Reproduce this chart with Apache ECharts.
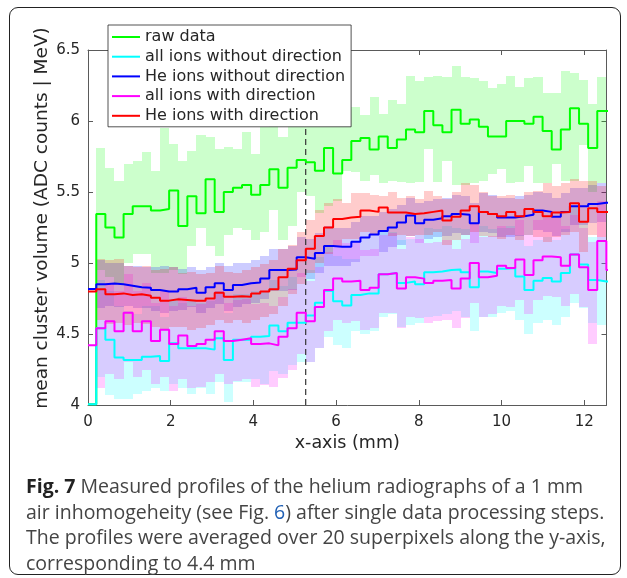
<!DOCTYPE html>
<html>
<head>
<meta charset="utf-8">
<script src="https://cdn.jsdelivr.net/npm/echarts/dist/echarts.min.js"></script>
<style>
body{margin:0;background:#fff;}
#frame{position:absolute;left:9px;top:7px;width:612px;height:568px;box-sizing:border-box;border:1.5px solid #222;border-radius:9px;}
#main{position:absolute;left:0;top:0;width:627px;height:578px;}
#caption{position:absolute;left:26px;top:473px;font-family:'Open Sans';font-size:19.5px;line-height:25.5px;color:#444;white-space:nowrap;}
#caption b{color:#222;}
#caption .ref{color:#1f5fb4;}
</style>
</head>
<body>
<div id="frame"></div>
<div id="main"></div>
<div id="caption"><b>Fig. 7</b> Measured profiles of the helium radiographs of a 1 mm<br>air inhomogeheity (see Fig. <span class="ref">6</span>) after single data processing steps.<br>The profiles were averaged over 20 superpixels along the y-axis,<br>corresponding to 4.4 mm</div>
<script>
var names=['raw data','all ions without direction','He ions without direction','all ions with direction','He ions with direction'];
var colors=['#00ff00','#00ffff','#0000ff','#ff00ff','#ff0000'];
var fills=['rgba(0,255,0,0.2)','rgba(0,255,255,0.2)','rgba(0,0,255,0.2)','rgba(255,0,255,0.2)','rgba(255,0,0,0.2)'];

// bins of 0.22 mm (one superpixel), first narrow bin from 0 to binStart
var binStart=0.2, binWidth=0.2203, xMax=12.54;
var boundary=5.265;
var xTicks=[0,2,4,6,8,10,12];
var yTicks=[4,4.5,5,5.5,6,6.5];

// raw data
var rawFirst=4.005, rawTail=6.07;
var rawMean=[5.345,5.25,5.18,5.345,5.40,5.40,5.37,5.38,5.51,5.26,5.47,5.35,5.59,5.36,5.50,5.53,5.55,5.48,5.55,5.66,
  5.53,5.67,5.725,5.71,5.65,5.81,5.63,5.725,5.86,5.88,5.80,5.89,5.81,5.87,5.94,5.92,6.07,5.97,5.92,6.08,
  5.98,6.01,5.96,5.89,5.89,6.00,6.00,5.98,6.03,5.93,5.80,5.94,6.09,5.98,5.81,6.07];
var rawUpper=[5.81,5.67,5.58,5.70,5.72,5.78,5.65,5.95,5.84,5.72,5.79,5.90,5.89,5.80,
  5.82,5.80,5.92,5.77,5.96,5.98,5.89,6.00,6.02,6.05,6.00,6.08,6.00,
  6.05,6.10,6.04,6.17,6.05,6.15,6.12,6.32,6.28,6.31,6.32,6.31,6.39,6.31,6.30,6.28,6.23,6.26,6.32,6.24,6.30,6.31,6.20,6.20,6.35,6.34,6.29,6.12,6.31];
var rawLower=[4.95,4.90,4.85,5.00,5.06,5.06,4.93,4.93,4.95,4.92,5.12,5.25,5.12,5.05,
  5.20,5.25,5.23,5.16,5.22,5.37,5.16,5.26,5.50,5.47,5.35,5.40,5.44,
  5.65,5.64,5.58,5.62,5.56,5.58,5.57,5.56,5.57,5.80,5.57,5.72,5.55,5.55,5.56,5.58,5.63,5.66,5.56,5.57,5.68,5.56,5.56,5.70,5.58,5.58,5.83,5.50,5.56];

// all ions without direction
var allNoDirFirst=4.005, allNoDirTail=4.87;
var allNoDirMean=[4.54,4.46,4.335,4.317,4.317,4.34,4.345,4.31,4.434,4.40,4.40,4.40,4.39,4.47,4.317,4.46,4.46,4.48,4.486,4.56,
  4.52,4.58,4.58,4.63,4.72,4.805,4.73,4.70,4.775,4.786,4.786,4.92,4.93,4.86,4.87,4.85,4.935,4.94,4.95,4.955,
  4.935,4.83,4.94,4.93,4.96,4.965,4.905,4.81,4.875,4.895,4.87,4.93,5.06,4.99,4.88,4.87];
var allNoDirUpper=[4.88,4.80,4.70,4.66,4.64,4.70,4.70,4.62,4.75,4.72,4.74,4.72,4.73,4.80,4.65,4.78,4.78,4.80,4.80,4.88,4.84,4.90,4.90,4.95,5.04,5.13,5.05,5.03,
  5.03,5.05,5.05,5.22,5.22,5.16,5.17,5.14,5.25,5.24,5.26,5.25,5.24,5.14,5.26,5.24,5.25,5.26,5.20,5.12,5.16,5.18,5.16,5.24,5.40,5.29,5.18,5.18];
var allNoDirLower=[4.20,4.07,4.04,4.04,4.08,4.10,4.12,4.10,4.15,4.12,4.08,4.12,4.08,4.16,4.02,4.16,4.16,4.18,4.15,4.24,4.22,4.28,4.30,4.30,4.40,4.48,4.42,4.40,
  4.52,4.50,4.52,4.62,4.64,4.55,4.56,4.58,4.62,4.63,4.64,4.66,4.62,4.52,4.62,4.62,4.65,4.66,4.60,4.50,4.58,4.60,4.56,4.62,4.72,4.68,4.58,4.56];

// He ions without direction
var heNoDirFirst=4.817, heNoDirTail=5.425;
var heNoDirMean=[4.85,4.855,4.85,4.84,4.83,4.825,4.81,4.80,4.80,4.815,4.825,4.79,4.83,4.858,4.81,4.845,4.857,4.862,4.89,4.95,
  4.95,4.955,5.04,5.03,5.07,5.12,5.115,5.115,5.15,5.18,5.20,5.225,5.25,5.285,5.335,5.28,5.305,5.315,5.33,5.345,
  5.34,5.28,5.36,5.345,5.32,5.32,5.33,5.34,5.37,5.36,5.326,5.36,5.40,5.40,5.415,5.425];
var heNoDirUpper=[5.02,5.00,5.00,4.98,4.98,4.97,4.97,4.98,4.97,4.96,4.97,4.95,4.97,5.00,4.98,5.00,5.00,5.02,5.05,5.10,5.10,5.12,
  5.18,5.17,5.21,5.26,5.25,5.25,5.29,5.33,5.33,5.36,5.38,5.41,5.46,5.42,5.44,5.45,5.46,5.48,5.47,5.42,5.49,5.48,5.46,5.46,5.47,5.48,5.50,5.49,5.46,5.49,5.53,5.53,5.55,5.56];
var heNoDirLower=[4.68,4.70,4.69,4.70,4.68,4.68,4.66,4.65,4.66,4.67,4.69,4.65,4.68,4.71,4.66,4.69,4.71,4.72,4.75,4.80,4.80,4.81,
  4.90,4.89,4.93,4.98,4.98,4.98,5.01,5.05,5.05,5.08,5.11,5.13,5.19,5.14,5.17,5.18,5.19,5.21,5.20,5.14,5.22,5.21,5.18,5.18,5.19,5.20,5.23,5.22,5.19,5.22,5.27,5.27,5.28,5.29];

// all ions with direction
var allDirFirst=4.42, allDirTail=4.95;
var allDirMean=[4.54,4.59,4.52,4.65,4.52,4.59,4.45,4.53,4.43,4.49,4.415,4.43,4.46,4.52,4.45,4.46,4.47,4.43,4.434,4.42,
  4.48,4.54,4.65,4.59,4.69,4.81,4.89,4.87,4.875,4.81,4.825,4.92,4.93,4.82,4.90,4.89,4.86,4.875,4.88,4.82,
  4.89,5.00,4.90,4.91,4.98,4.965,5.025,4.915,5.02,5.045,5.04,4.98,5.06,4.97,4.81,5.155];
var allDirUpper=[4.82,4.86,4.80,4.92,4.80,4.86,4.72,4.80,4.70,4.76,4.70,4.71,4.74,4.80,4.72,4.74,4.75,4.71,4.72,4.70,4.76,4.82,4.93,4.87,4.97,5.08,5.16,5.14,
  5.15,5.09,5.10,5.20,5.21,5.10,5.18,5.17,5.14,5.15,5.16,5.10,5.17,5.28,5.18,5.19,5.26,5.25,5.30,5.20,5.30,5.32,5.32,5.26,5.34,5.25,5.15,5.44];
var allDirLower=[4.12,4.22,4.18,4.30,4.20,4.25,4.15,4.20,4.10,4.18,4.12,4.13,4.16,4.22,4.15,4.17,4.18,4.13,4.14,4.13,4.19,4.25,4.36,4.30,4.40,4.52,4.60,4.58,
  4.59,4.53,4.54,4.65,4.65,4.54,4.62,4.61,4.58,4.59,4.60,4.54,4.61,4.72,4.62,4.64,4.70,4.69,4.74,4.64,4.74,4.77,4.76,4.70,4.78,4.69,4.43,4.87];

// He ions with direction
var heDirFirst=4.80, heDirTail=5.36;
var heDirMean=[4.815,4.78,4.786,4.775,4.78,4.77,4.755,4.735,4.745,4.74,4.735,4.735,4.75,4.79,4.763,4.765,4.763,4.785,4.80,4.815,
  4.90,4.96,5.02,5.10,5.19,5.25,5.31,5.32,5.326,5.37,5.36,5.39,5.355,5.355,5.345,5.35,5.36,5.37,5.30,5.326,
  5.37,5.40,5.36,5.345,5.33,5.36,5.33,5.38,5.36,5.33,5.355,5.36,5.42,5.29,5.385,5.36];
var heDirUpper=[5.03,5.02,5.03,4.98,4.97,4.98,4.95,4.96,4.97,4.93,4.94,4.92,4.93,4.98,4.94,4.93,4.95,4.97,4.99,5.02,5.10,5.13,5.22,5.30,5.37,5.42,5.45,
  5.42,5.49,5.49,5.48,5.47,5.50,5.46,5.47,5.45,5.51,5.47,5.45,5.50,5.56,5.55,5.50,5.47,5.47,5.48,5.45,5.50,5.51,5.56,5.54,5.56,5.59,5.58,5.58,5.54];
var heDirLower=[4.60,4.57,4.58,4.56,4.58,4.57,4.55,4.53,4.55,4.55,4.53,4.54,4.56,4.60,4.58,4.60,4.58,4.60,4.62,4.64,4.70,4.78,4.85,4.93,5.00,5.06,5.12,
  5.17,5.17,5.22,5.20,5.22,5.19,5.20,5.19,5.20,5.20,5.22,5.13,5.16,5.20,5.22,5.19,5.18,5.17,5.20,5.16,5.20,5.18,5.15,5.18,5.20,5.22,5.08,5.20,5.18];

function stepData(first,mean,tail){
	var pts=[[0,first]];
	for(var k=0;k<mean.length;k++){
		pts.push([binStart+k*binWidth,mean[k]]);
	}
	var end=binStart+mean.length*binWidth;
	pts.push([end,tail]);
	pts.push([end+binWidth,tail]);
	return pts;
}

function bandData(lower,upper){
	var d=[];
	for(var k=0;k<lower.length;k++){
		d.push([binStart+k*binWidth,binStart+(k+1)*binWidth,lower[k],upper[k]]);
	}
	return d;
}

function bandRender(fill){
	return function(params,api){
		var a=api.coord([api.value(0),api.value(3)]);
		var b=api.coord([api.value(1),api.value(2)]);
		var x0=Math.round(a[0]),x1=Math.round(b[0]);
		var y0=Math.round(a[1]),y1=Math.round(b[1]);
		var cs=params.coordSys;
		var r=echarts.graphic.clipRectByRect({x:x0,y:y0,width:x1-x0,height:y1-y0},{x:cs.x,y:cs.y,width:cs.width,height:cs.height});
		if(!r) return;
		return {type:'rect',shape:r,style:{fill:fill}};
	}
}

var means=[
	stepData(rawFirst,rawMean,rawTail),
	stepData(allNoDirFirst,allNoDirMean,allNoDirTail),
	stepData(heNoDirFirst,heNoDirMean,heNoDirTail),
	stepData(allDirFirst,allDirMean,allDirTail),
	stepData(heDirFirst,heDirMean,heDirTail)
];
var ranges=[
	bandData(rawLower,rawUpper),
	bandData(allNoDirLower,allNoDirUpper),
	bandData(heNoDirLower,heNoDirUpper),
	bandData(allDirLower,allDirUpper),
	bandData(heDirLower,heDirUpper)
];

var series=[];
for(var i=0;i<5;i++){
	series.push({
		type:'custom',
		name:names[i]+' band',
		renderItem:bandRender(fills[i]),
		encode:{x:[0,1],y:[2,3]},
		data:ranges[i],
		silent:true,
		z:1
	});
}
series.push({
	type:'line',
	name:'boundary',
	data:[[boundary,yTicks[0]],[boundary,yTicks[yTicks.length-1]]],
	symbol:'none',
	silent:true,
	lineStyle:{color:'#333',width:1.2,type:[6,4]},
	z:2
});
for(var i=0;i<5;i++){
	series.push({
		type:'line',
		name:names[i],
		data:means[i],
		step:'end',
		symbol:'none',
		showSymbol:false,
		clip:true,
		color:colors[i],
		lineStyle:{color:colors[i],width:2},
		z:3
	});
}

var axisColor='#5a5a5a';
var tickFont={color:'#262626',fontSize:15,fontFamily:'DejaVu Sans'};

var myChart=echarts.init(document.getElementById('main'));
var option={
	animation:false,
	grid:{left:88,top:50,width:518.5,height:355},
	xAxis:[
		{
			type:'value',min:0,max:xMax,interval:xTicks[1]-xTicks[0],position:'bottom',
			axisLine:{onZero:false,lineStyle:{color:axisColor,width:1}},
			axisTick:{inside:true,length:5,lineStyle:{color:axisColor}},
			axisLabel:Object.assign({margin:10,showMaxLabel:false},tickFont),
			splitLine:{show:false},
			name:'x-axis (mm)',nameLocation:'middle',nameGap:24,
			nameTextStyle:{color:'#262626',fontSize:17.5,fontFamily:'DejaVu Sans'}
		},
		{
			type:'value',min:0,max:xMax,interval:xTicks[1]-xTicks[0],position:'top',
			axisLine:{onZero:false,lineStyle:{color:axisColor,width:1}},
			axisTick:{inside:true,length:5,lineStyle:{color:axisColor}},
			axisLabel:{show:false},
			splitLine:{show:false}
		}
	],
	yAxis:[
		{
			type:'value',min:yTicks[0],max:yTicks[yTicks.length-1],interval:yTicks[1]-yTicks[0],position:'left',
			axisLine:{show:true,onZero:false,lineStyle:{color:axisColor,width:1}},
			axisTick:{show:true,inside:true,length:5,lineStyle:{color:axisColor}},
			axisLabel:Object.assign({margin:8},tickFont),
			splitLine:{show:false}
		},
		{
			type:'value',min:yTicks[0],max:yTicks[yTicks.length-1],interval:yTicks[1]-yTicks[0],position:'right',
			axisLine:{show:true,onZero:false,lineStyle:{color:axisColor,width:1}},
			axisTick:{show:true,inside:true,length:5,lineStyle:{color:axisColor}},
			axisLabel:{show:false},
			splitLine:{show:false}
		}
	],
	legend:{
		data:names.map(function(n){return {name:n,icon:'rect'};}),
		orient:'vertical',
		left:108,top:25,
		itemWidth:28,itemHeight:2,itemGap:3.7,
		padding:[4,6,3,4],
		backgroundColor:'#fff',
		borderColor:'#262626',borderWidth:0.8,borderRadius:0,
		selectedMode:false,
		textStyle:{color:'#262626',fontSize:16,fontFamily:'DejaVu Sans'}
	},
	graphic:[{
		type:'text',
		x:42,y:218,
		rotation:Math.PI/2,
		style:{text:'mean cluster volume (ADC counts | MeV)',align:'center',verticalAlign:'middle',fill:'#262626',font:'18.5px "DejaVu Sans"'}
	}],
	series:series
};
myChart.setOption(option);
</script>
</body>
</html>
